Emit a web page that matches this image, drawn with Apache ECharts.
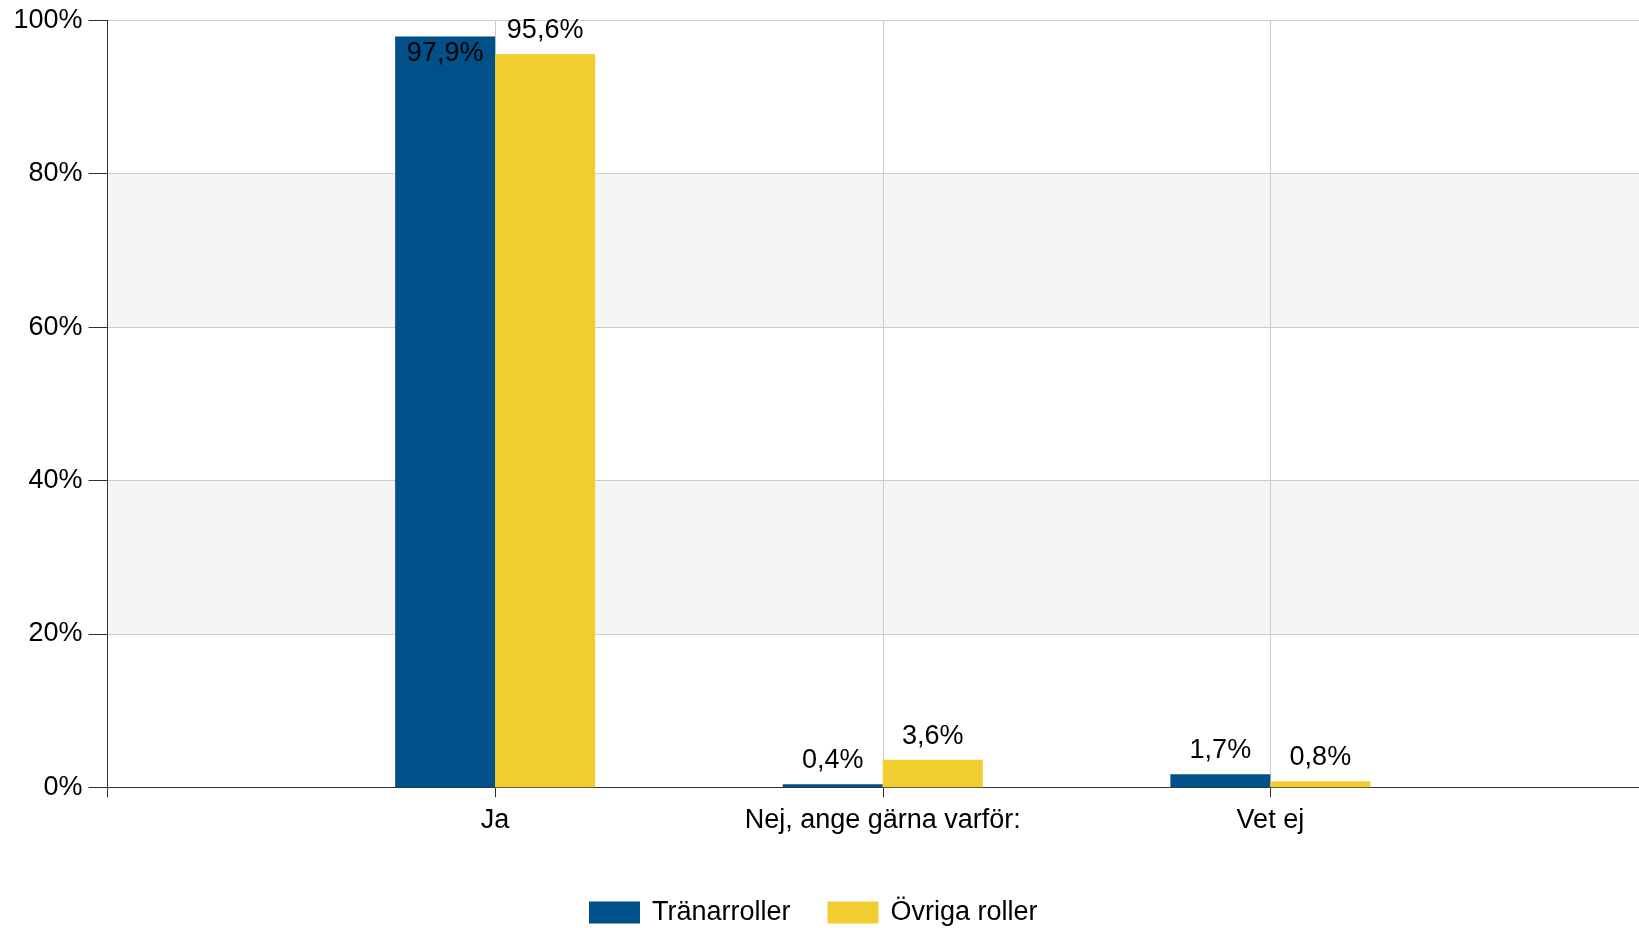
<!DOCTYPE html>
<html>
<head>
<meta charset="utf-8">
<script src="https://cdn.jsdelivr.net/npm/echarts@6/dist/echarts.min.js"></script>
<style>
html,body{margin:0;padding:0;background:#fff;}
#main{width:1639px;height:928px;}
</style>
</head>
<body>
<div id="main"></div>
<script>
var categories = ['Ja', 'Nej, ange gärna varför:', 'Vet ej'];
var seriesNames = ['Tränarroller', 'Övriga roller'];
var tranarroller = [97.9, 0.4, 1.7];
var ovrigaRoller = [95.6, 3.6, 0.8];
var yTicks = [0, 20, 40, 60, 80, 100];

var FONT = '"Liberation Sans", Arial, sans-serif';
var FS = 27;
// padded axis: empty slot at the start and end
var axisCats = [''].concat(categories).concat(['']);
function pad(arr) { return [null].concat(arr).concat([null]); }
function fmt(v) { return v.toFixed(1).replace('.', ',') + '%'; }

var blueData = pad(tranarroller).map(function (v) {
  if (v === null) return null;
  if (v > 97) return { value: v, label: { position: 'insideTop', distance: 4 } };
  return v;
});

var chart = echarts.init(document.getElementById('main'), null, { renderer: 'canvas' });
chart.setOption({
  animation: false,
  backgroundColor: '#ffffff',
  textStyle: { fontFamily: FONT },
  grid: { left: 107.5, right: -19, top: 20.3, bottom: 140.7, containLabel: false, outerBoundsMode: 'none' },
  legend: {
    data: seriesNames,
    left: 584,
    top: 894,
    icon: 'rect',
    itemWidth: 51,
    itemHeight: 22,
    itemGap: 37,
    textStyle: { fontSize: FS, color: '#000', fontFamily: FONT, padding: [0, 0, 0, 7] }
  },
  xAxis: {
    type: 'category',
    data: axisCats,
    boundaryGap: false,
    axisLine: { show: true, lineStyle: { color: '#333', width: 1 } },
    axisTick: { show: true, length: 10, lineStyle: { color: '#333' }, interval: 0 },
    axisLabel: { fontSize: FS, color: '#000', margin: 20, fontFamily: FONT, interval: 0 },
    splitLine: { show: true, interval: 0, lineStyle: { color: '#cccccc', width: 1 } }
  },
  yAxis: {
    type: 'value',
    min: yTicks[0],
    max: yTicks[yTicks.length - 1],
    interval: 20,
    axisLine: { show: true, lineStyle: { color: '#333', width: 1 } },
    axisTick: { show: true, length: 19, lineStyle: { color: '#333' } },
    axisLabel: { fontSize: FS, color: '#000', margin: 25, fontFamily: FONT, formatter: '{value}%' },
    splitLine: { show: true, lineStyle: { color: '#cccccc', width: 1 } },
    splitArea: { show: true, areaStyle: { color: ['#ffffff', '#f5f5f5'] } }
  },
  series: [
    {
      name: seriesNames[0],
      type: 'bar',
      barWidth: 100,
      barGap: '0%',
      itemStyle: { color: '#005089' },
      label: { show: true, position: 'top', distance: 10, fontSize: FS, color: '#000', fontFamily: FONT,
        formatter: function (p) { return fmt(p.value); } },
      data: blueData
    },
    {
      name: seriesNames[1],
      type: 'bar',
      barWidth: 100,
      barGap: '0%',
      itemStyle: { color: '#f2cd30' },
      label: { show: true, position: 'top', distance: 10, fontSize: FS, color: '#000', fontFamily: FONT,
        formatter: function (p) { return fmt(p.value); } },
      data: pad(ovrigaRoller)
    }
  ]
});
</script>
</body>
</html>
